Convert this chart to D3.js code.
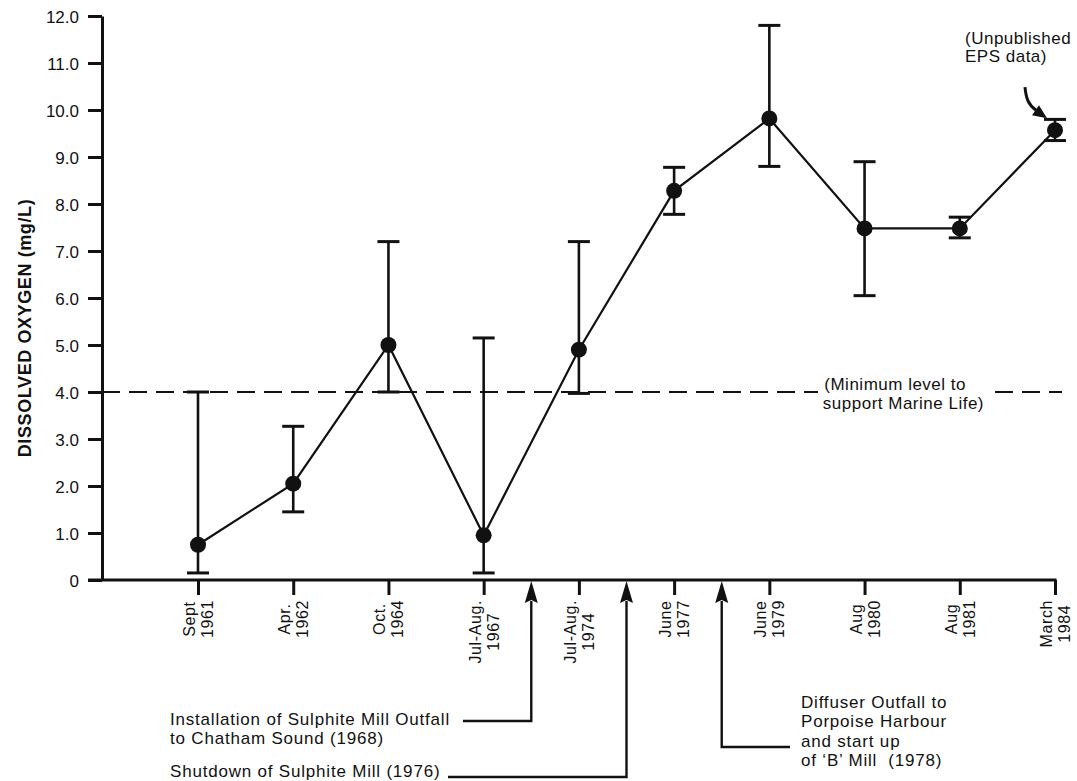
<!DOCTYPE html>
<html>
<head>
<meta charset="utf-8">
<script src="https://cdn.jsdelivr.net/npm/d3@7"></script>
<style>
  html, body { margin: 0; padding: 0; background: #fff; }
  svg { display: block; font-family: "Liberation Sans", Arial, Helvetica, sans-serif; }
  .pre { white-space: pre; }
</style>
</head>
<body>
<svg id="chart" width="1077" height="781"></svg>
<script>
// Sampling campaigns (two-line labels) and dissolved oxygen, mg/L
const categories = [
  "Sept\n1961", "Apr.\n1962", "Oct.\n1964", "Jul-Aug.\n1967", "Jul-Aug.\n1974",
  "June\n1977", "June\n1979", "Aug\n1980", "Aug\n1981", "March\n1984"
];
const means = [0.75, 2.05, 5.0, 0.95, 4.9, 8.28, 9.82, 7.48, 7.48, 9.57];
const lows  = [0.15, 1.45, 4.0, 0.15, 3.97, 7.78, 8.8, 6.05, 7.28, 9.35];
const highs = [4.0, 3.27, 7.2, 5.15, 7.2, 8.78, 11.8, 8.9, 7.72, 9.8];
const yTicks = [0, 1, 2, 3, 4, 5, 6, 7, 8, 9, 10, 11, 12];
const minimumLevel = 4.0;

// Events placed between two campaigns (index of the campaign just before)
const events = [
  { after: 3, lines: ["Installation of Sulphite Mill Outfall", "to Chatham Sound (1968)"] },
  { after: 4, lines: ["Shutdown of Sulphite Mill (1976)"] },
  { after: 5, lines: ["Diffuser Outfall to", "Porpoise Harbour", "and start up", "of \u2018B\u2019 Mill  (1978)"] }
];

const svg = d3.select("#chart");
const ink = "#111";

const x = d3.scalePoint().domain(categories).range([198, 1055]);
const y = d3.scaleLinear().domain([0, 12]).range([580, 16]);
const x0 = 102;            // y-axis position
const yBase = y(0);

// ---- y axis
const yAxis = svg.append("g")
  .attr("transform", `translate(${x0},0)`)
  .call(d3.axisLeft(y).tickValues(yTicks).tickSize(14).tickSizeOuter(0).tickPadding(9)
    .tickFormat(d => d === 0 ? "0" : d3.format(".1f")(d)));
yAxis.attr("font-family", null).attr("font-size", null);
yAxis.select(".domain").attr("stroke", ink).attr("stroke-width", 3);
yAxis.selectAll(".tick line").attr("stroke", ink).attr("stroke-width", 3);
yAxis.selectAll(".tick text").attr("fill", ink).attr("font-size", 17).attr("dy", "0.36em");

svg.append("text")
  .attr("transform", `translate(31,${(y(0) + y(12)) / 2 + 30}) rotate(-90)`)
  .attr("text-anchor", "middle")
  .attr("font-size", 18).attr("font-weight", "bold").attr("letter-spacing", 0.6)
  .attr("fill", ink)
  .text("DISSOLVED OXYGEN (mg/L)");

// ---- x axis
svg.append("line")
  .attr("x1", x0 - 14).attr("x2", x(categories[categories.length - 1]) + 1.5)
  .attr("y1", yBase).attr("y2", yBase)
  .attr("stroke", ink).attr("stroke-width", 3);

const xAxis = svg.append("g")
  .attr("transform", `translate(0,${yBase})`)
  .call(d3.axisBottom(x).tickSize(15).tickSizeOuter(0).tickFormat(""));
xAxis.select(".domain").remove();
xAxis.selectAll(".tick line").attr("stroke", ink).attr("stroke-width", 3);

// rotated two-line campaign labels, lines centred on each other
svg.append("g").selectAll("g").data(categories).join("g")
  .attr("transform", d => `translate(${x(d)},${yBase}) rotate(-90)`)
  .each(function (d) {
    const g = d3.select(this);
    const t = g.selectAll("text").data(d.split("\n")).join("text")
      .attr("y", (l, i) => i === 0 ? -3 : 15)
      .attr("text-anchor", "middle")
      .attr("font-size", 16).attr("letter-spacing", 0.6).attr("fill", ink)
      .text(l => l);
    const w = d3.max(t.nodes(), n => n.getComputedTextLength());
    t.attr("x", -(20 + w / 2));
  });

// ---- minimum level reference line (broken around its label)
const yMin = y(minimumLevel);
[[x0, 818], [995, 1062]].forEach(([a, b]) => {
  svg.append("line")
    .attr("x1", a).attr("x2", b).attr("y1", yMin).attr("y2", yMin)
    .attr("stroke", ink).attr("stroke-width", 2.2).attr("stroke-dasharray", "18,9");
});
svg.append("text").attr("x", 966).attr("y", yMin - 2).attr("text-anchor", "end")
  .attr("font-size", 17).attr("letter-spacing", 0.5).attr("fill", ink).text("(Minimum level to");
svg.append("text").attr("x", 984).attr("y", yMin + 17).attr("text-anchor", "end")
  .attr("font-size", 17).attr("letter-spacing", 0.5).attr("fill", ink).text("support Marine Life)");

// ---- error bars
const idx = d3.range(categories.length);
const capW = 11;
const bars = svg.append("g").attr("stroke", ink);
bars.selectAll(".stem").data(idx).join("line")
  .attr("x1", i => x(categories[i])).attr("x2", i => x(categories[i]))
  .attr("y1", i => y(lows[i])).attr("y2", i => y(highs[i]))
  .attr("stroke-width", 2.6);
bars.selectAll(".capHi").data(idx).join("line")
  .attr("x1", i => x(categories[i]) - capW).attr("x2", i => x(categories[i]) + capW)
  .attr("y1", i => y(highs[i])).attr("y2", i => y(highs[i]))
  .attr("stroke-width", 3);
bars.selectAll(".capLo").data(idx).join("line")
  .attr("x1", i => x(categories[i]) - capW).attr("x2", i => x(categories[i]) + capW)
  .attr("y1", i => y(lows[i])).attr("y2", i => y(lows[i]))
  .attr("stroke-width", 3);

// ---- mean line and points
svg.append("path")
  .datum(idx)
  .attr("fill", "none").attr("stroke", ink).attr("stroke-width", 2.2)
  .attr("d", d3.line().x(i => x(categories[i])).y(i => y(means[i])));
svg.append("g").selectAll("circle").data(idx).join("circle")
  .attr("cx", i => x(categories[i])).attr("cy", i => y(means[i]))
  .attr("r", 8).attr("fill", ink);

// ---- note on the last campaign
const last = categories.length - 1;
const px = x(categories[last]), py = y(means[last]);
svg.append("text").attr("x", px - 90).attr("y", py - 86)
  .attr("font-size", 17).attr("letter-spacing", 0.5).attr("fill", ink).text("(Unpublished");
svg.append("text").attr("x", px - 90).attr("y", py - 68)
  .attr("font-size", 17).attr("letter-spacing", 0.5).attr("fill", ink).text("EPS data)");
svg.append("path")
  .attr("d", `M${px - 30},${py - 43} C${px - 29},${py - 32} ${px - 27},${py - 26} ${px - 19},${py - 20}`)
  .attr("fill", "none").attr("stroke", ink).attr("stroke-width", 3);
svg.append("path")
  .attr("d", `M${px - 8},${py - 12} L${px - 23},${py - 15} L${px - 16},${py - 25} Z`)
  .attr("fill", ink);

// ---- event arrows and their captions
const evX = e => (x(categories[e.after]) + x(categories[e.after + 1])) / 2;
const arrowTop = yBase + 1, arrowHead = 22;
const legs = [
  { yEnd: 721, toX: 463, textX: 170, base: 725, step: 19 },
  { yEnd: 777, toX: 448, textX: 170, base: 777, step: 19 },
  { yEnd: 747, toX: 790, textX: 801, base: 708, step: 19.4 }
];
events.forEach((e, k) => {
  const ex = evX(e), L = legs[k];
  svg.append("path")
    .attr("d", `M${ex},${arrowTop + arrowHead - 2} L${ex},${L.yEnd} L${L.toX},${L.yEnd}`)
    .attr("fill", "none").attr("stroke", ink).attr("stroke-width", 2.4);
  svg.append("path")
    .attr("d", `M${ex},${arrowTop} L${ex + 6.5},${arrowTop + arrowHead} L${ex},${arrowTop + arrowHead - 3} L${ex - 6.5},${arrowTop + arrowHead} Z`)
    .attr("fill", ink);
  e.lines.forEach((line, j) => {
    svg.append("text").attr("class", "pre")
      .attr("x", L.textX).attr("y", L.base + j * L.step)
      .attr("font-size", 17).attr("letter-spacing", 0.8).attr("fill", ink)
      .text(line);
  });
});
</script>
</body>
</html>
